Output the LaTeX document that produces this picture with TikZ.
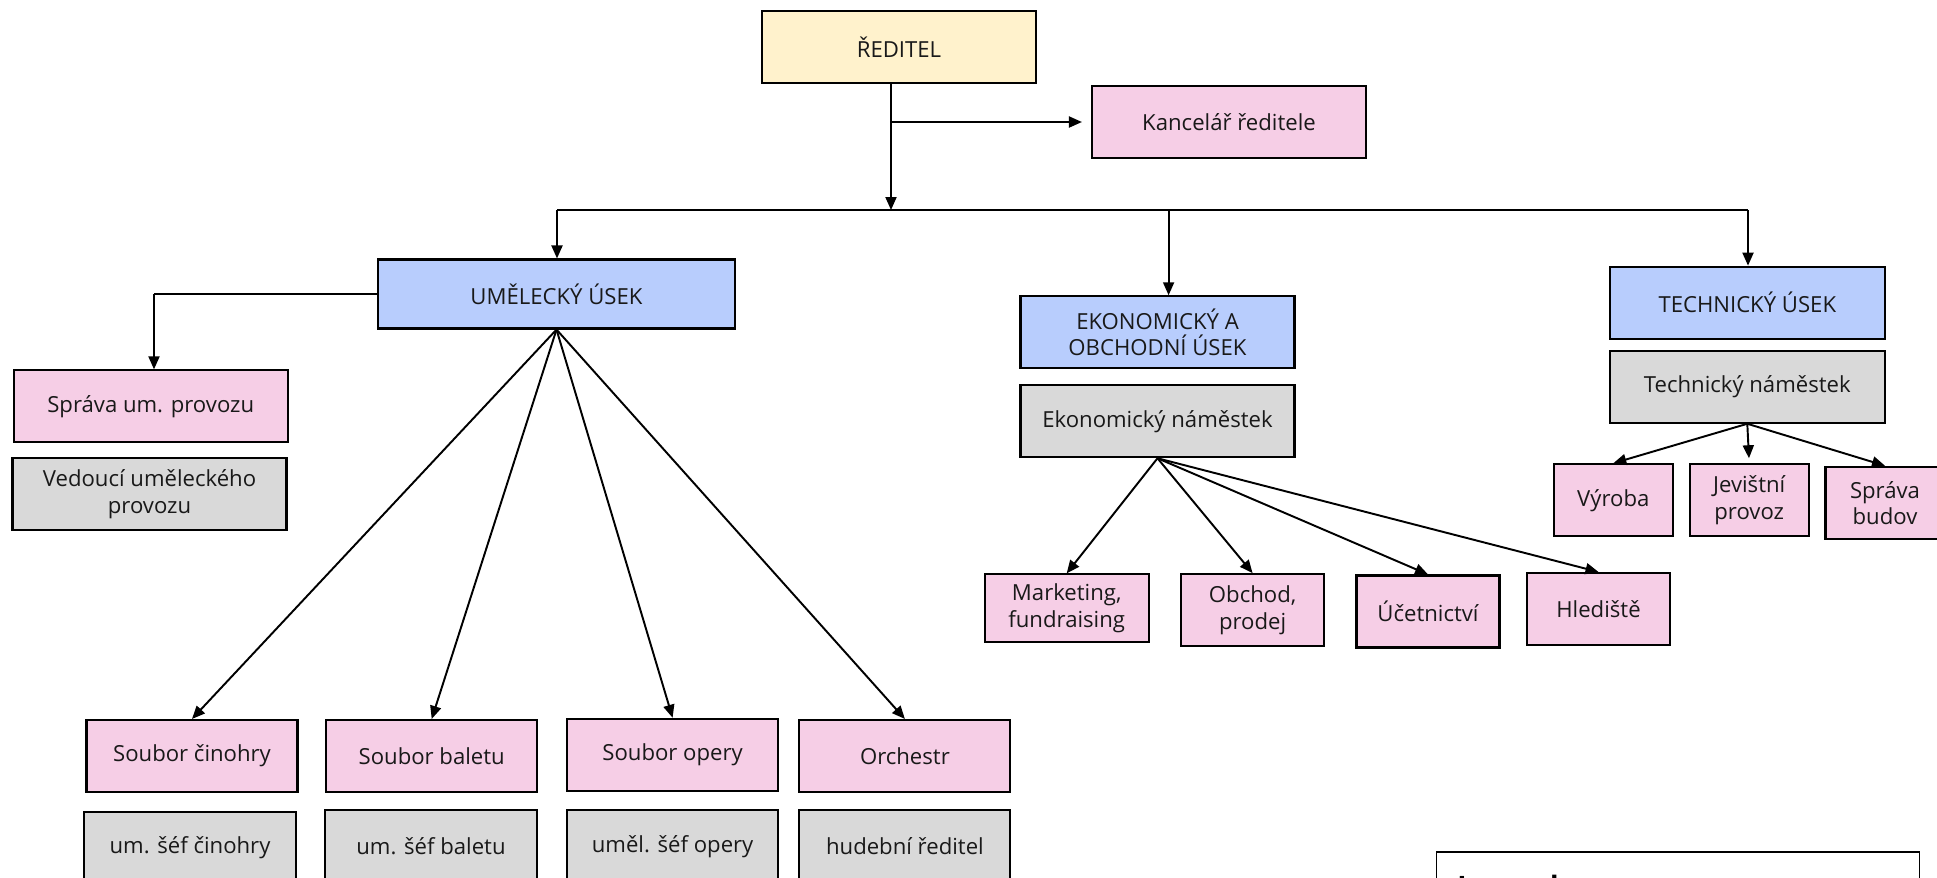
\documentclass[tikz,border=0pt]{standalone}
\usepackage{fontspec}
\setmainfont{Open Sans}
\usetikzlibrary{arrows.meta}

\definecolor{bossyellow}{HTML}{FFF2CC}
\definecolor{unitpink}{HTML}{F6CEE6}
\definecolor{secblue}{HTML}{B8CDFD}
\definecolor{headgrey}{HTML}{D9D9D9}

\begin{document}
\begin{tikzpicture}[
    x=0.02cm, y=-0.02cm,
    >={Triangle[length=2.6mm,width=2.2mm]},
    box/.style={draw, line width=1.2pt, inner sep=1pt, align=center,
        font=\fontsize{12.6}{15}\selectfont, text=black!90},
    sz/.style 2 args={minimum width=#1*0.02cm, minimum height=#2*0.02cm},
    yellowbox/.style={box, fill=bossyellow},
    pinkbox/.style={box, fill=unitpink},
    bluebox/.style={box, fill=secblue},
    greybox/.style={box, fill=headgrey},
    link/.style={line width=1.1pt},
    bus/.style={line width=0.7pt},
]
\useasboundingbox (0,0) rectangle (1937,877);
\clip (0,0) rectangle (1937,877);

% top
\node[yellowbox, sz={274}{72}] (reditel) at (899,47) {ŘEDITEL};
\node[pinkbox, sz={274}{72}] (kancelar) at (1229,122) {Kancelář ředitele};

\coordinate (kb) at (891,122);
\coordinate (busL) at (557,210);
\coordinate (busM) at (891,210);
\coordinate (busE) at (1168.6,210);
\coordinate (busR) at (1748,210);

\draw[link,->] (reditel.south -| busM) -- (busM);
\draw[link,->,shorten >=0.18cm] (kb) -- (kb -| kancelar.west);
\draw[bus] (busL) -- (busR);

% sections
\node[bluebox, sz={357}{69}] (umel) at (556.5,294) {UMĚLECKÝ ÚSEK};
\node[bluebox, sz={274}{72}] (ekon) at (1157.5,332.3) {EKONOMICKÝ A\\OBCHODNÍ ÚSEK};
\node[bluebox, sz={275}{72}] (tech) at (1747.3,302.7) {TECHNICKÝ ÚSEK};

\draw[link,->] (busL) -- (busL |- umel.north);
\draw[link,->] (busE) -- (busE |- ekon.north);
\draw[link,->] (busR) -- (busR |- tech.north);

% umelecky usek
\node[pinkbox, sz={274}{72}] (spravaum) at (150.7,406.4) {Správa um. provozu};
\node[greybox, sz={274}{72}] (vedouci) at (149.5,494) {Vedoucí uměleckého\\provozu};

\coordinate (su) at (154,294);
\draw[bus] (umel.west) -- (su);
\draw[link,->] (su) -- (su |- spravaum.north);

\node[pinkbox, sz={211}{72}] (cinohra) at (192,756) {Soubor činohry};
\node[pinkbox, sz={211}{72}] (balet) at (431.7,756) {Soubor baletu};
\node[pinkbox, sz={211}{72}] (opera) at (672.6,754.8) {Soubor opery};
\node[pinkbox, sz={211}{72}] (orchestr) at (904.9,756) {Orchestr};

\node[greybox, sz={212}{72}] (sefcin) at (190,847.6) {um. šéf činohry};
\node[greybox, sz={212}{72}] (sefbal) at (431,846.4) {um. šéf baletu};
\node[greybox, sz={211}{72}] (sefop) at (672.6,846.4) {uměl. šéf opery};
\node[greybox, sz={211}{72}] (hudred) at (904.9,846.4) {hudební ředitel};

\foreach \n in {cinohra,balet,opera,orchestr}
    \draw[link,->] (umel.south) -- (\n.north);

% ekonomicky usek
\node[greybox, sz={274}{72}] (ekonnam) at (1157.5,421.2) {Ekonomický náměstek};

\node[pinkbox, sz={164}{68}] (marketing) at (1066.7,608.4) {Marketing,\\fundraising};
\node[pinkbox, sz={143}{72}] (obchod) at (1252.6,610.2) {Obchod,\\prodej};
\node[pinkbox, sz={143}{72}] (ucetnictvi) at (1428,611.5) {Účetnictví};
\node[pinkbox, sz={143}{72}] (hlediste) at (1598.5,609) {Hlediště};

\foreach \n in {marketing,obchod,ucetnictvi,hlediste}
    \draw[link,->] (ekonnam.south) -- (\n.north);

% technicky usek
\node[greybox, sz={275}{72}] (technam) at (1747.3,386.7) {Technický náměstek};

\node[pinkbox, sz={119}{72}] (vyroba) at (1613.3,500.3) {Výroba};
\node[pinkbox, sz={119}{72}] (jevprov) at (1749.2,500.3) {Jevištní\\provoz};
\node[pinkbox, sz={119}{72}] (spravabud) at (1885,502.8) {Správa\\budov};

\draw[link,->] (technam.south) -- (vyroba.north);
\draw[link,->,shorten >=0.1cm] (technam.south) -- (jevprov.north);
\draw[link,->] (technam.south) -- (spravabud.north);

% legend (cut off)
\node[draw, line width=0.9pt, anchor=north west, sz={483}{120}] (legenda) at (1435.5,851) {};
\node[anchor=base west, inner sep=0pt, font=\bfseries\fontsize{16}{19}\selectfont] (legtitle) at (1457,896) {Legenda};

\end{tikzpicture}
\end{document}
